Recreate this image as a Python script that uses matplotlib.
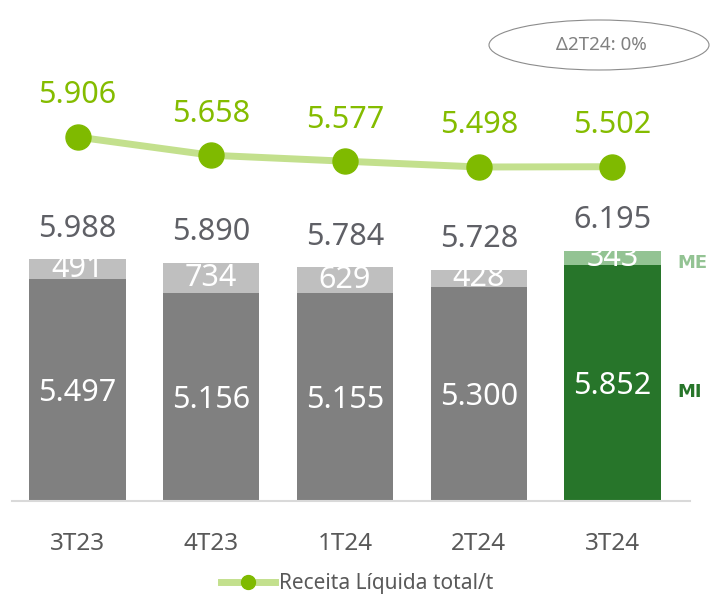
import numpy as np
import matplotlib.pyplot as plt
from matplotlib.patches import Ellipse
from matplotlib.lines import Line2D

plt.rcParams['font.family'] = ['Noto Sans', 'DejaVu Sans']

# DADOS
trimestres = ['3T23', '4T23', '1T24', '2T24', '3T24']
mi = [5497, 5156, 5155, 5300, 5852]       # Mercado interno
me = [491, 734, 629, 428, 343]            # Mercado externo
total = [5988, 5890, 5784, 5728, 6195]    # Total
receita = [5906, 5658, 5577, 5498, 5502]  # Receita Líquida total/t

def fmt(v):
    return f"{v:,}".replace(",", ".")

# CORES
cor_mi = ['#808080'] * 4 + ['#27752a']
cor_me = ['#bfbfbf'] * 4 + ['#93c393']
cor_linha = '#c3e08d'
cor_ponto = '#7fba00'

fig = plt.figure(figsize=(7.1, 5.97), dpi=100)
ax = fig.add_axes([12 / 710, 96 / 597, 678 / 710, 481 / 597])
x = np.arange(len(trimestres))

ax.bar(x, mi, width=0.72, color=cor_mi, zorder=2)
ax.bar(x, me, width=0.72, bottom=mi, color=cor_me, zorder=2)

for i in range(len(x)):
    ax.text(x[i], mi[i] / 2 - 80, fmt(mi[i]), ha='center', va='center',
            color='white', fontsize=22)
    ax.text(x[i], mi[i] + me[i] / 2, fmt(me[i]), ha='center', va='center',
            color='white', fontsize=22)
    ax.annotate(fmt(total[i]), (x[i], total[i]), xytext=(0, 22),
                textcoords='offset points', ha='center', va='center',
                color='#5f6066', fontsize=22)

ax.text(4.485, mi[4] + me[4] / 2 - 140, 'ME', ha='left', va='center',
        color='#93c393', fontsize=13, fontweight='bold',
        family='DejaVu Sans', clip_on=False)
ax.text(4.485, mi[4] / 2 - 230, 'MI', ha='left', va='center',
        color='#27752a', fontsize=13, fontweight='bold',
        family='DejaVu Sans', clip_on=False)

ax.set_xlim(-0.49, 4.58)
ax.set_ylim(0, 11906)
ax.set_xticks(x)
ax.set_xticklabels(trimestres, fontsize=17.5, color='#595959')
ax.tick_params(axis='x', length=0, pad=22)
ax.set_yticks([])
for s in ['top', 'right', 'left']:
    ax.spines[s].set_visible(False)
ax.spines['bottom'].set_color('#d9d9d9')
ax.spines['bottom'].set_linewidth(1.5)

# LINHA
ax2 = ax.twinx()
ax2.set_ylim(954, 7498)
ax2.plot(x, receita, color=cor_linha, lw=5, zorder=3)
ax2.plot(x, receita, 'o', color=cor_ponto, ms=18, zorder=4)
for i in range(len(x)):
    ax2.annotate(fmt(receita[i]), (x[i], receita[i]), xytext=(0, 30),
                 textcoords='offset points', ha='center', va='center',
                 color='#84bc00', fontsize=22)
ax2.axis('off')

# ELIPSE
fig.patches.append(Ellipse((599 / 710, 1 - 45 / 597), 220 / 710, 50 / 597,
                           transform=fig.transFigure, fill=False,
                           edgecolor='#8c8c8c', lw=0.8))
fig.text(601 / 710, 1 - 45 / 597, 'Δ2T24: 0%', ha='center', va='center',
         color='#808080', fontsize=13.5)

# LEGENDA
h = Line2D([], [], color=cor_linha, lw=5, marker='o', ms=10,
           markerfacecolor=cor_ponto, markeredgecolor=cor_ponto)
fig.legend([h], ['Receita Líquida total/t'], loc='center',
           bbox_to_anchor=(357 / 710, 1 - 584 / 597), frameon=False,
           fontsize=15, labelcolor='#595959', handlelength=2.6,
           handletextpad=0.2)

fig.savefig('out.png', dpi=100)
